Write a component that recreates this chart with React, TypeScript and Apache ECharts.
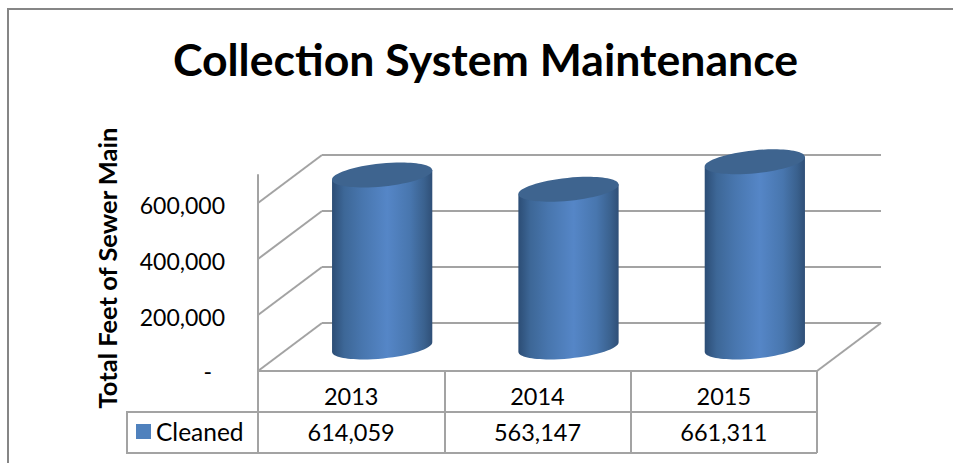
import React, { useEffect, useRef } from "react";
import * as echarts from "echarts";

const years = ["2013", "2014", "2015"];
const cleaned = [614059, 563147, 661311];
const wallTicks = [0, 200000, 400000, 600000];
const seriesName = "Cleaned";
const titleText = "Collection System Maintenance";
const axisTitle = "Total Feet of Sewer Main";

const FONT = "Lato, 'Open Sans', sans-serif";
const LINE = "#a3a3a3";
const BASE_BLUE = "#4f81bd";
// Offset from the front of the 3D box to its back wall.
const DEPTH_X = 64;
const DEPTH_Y = -48;
// Bezier constant for a quarter of an ellipse.
const K = 0.5523;

const wallItem = (params: any, api: any) => {
  const v = api.value(1);
  const [, y] = api.coord([0, v]);
  const left = params.coordSys.x;
  const style = { stroke: LINE, lineWidth: 2, fill: "none" };
  const children: any[] = [
    { type: "line", shape: { x1: left, y1: y, x2: left + DEPTH_X, y2: y + DEPTH_Y }, style },
  ];
  if (v === 0) {
    const right = left + params.coordSys.width;
    children.push({ type: "line", shape: { x1: right, y1: y, x2: right + DEPTH_X, y2: y + DEPTH_Y }, style });
  }
  return { type: "group", children };
};

// Lower half of a tilted ellipse from its left tip to its right tip.
const lowerArc = (cx: number, cy: number, a: number, s: number, vx: number, vy: number) => {
  const c1 = `${cx - a + K * vx} ${cy + s + K * vy}`;
  const c2 = `${cx + vx - K * a} ${cy + vy + K * s}`;
  const mid = `${cx + vx} ${cy + vy}`;
  const c3 = `${cx + vx + K * a} ${cy + vy - K * s}`;
  const c4 = `${cx + a + K * vx} ${cy - s + K * vy}`;
  return `C${c1} ${c2} ${mid} C${c3} ${c4} ${cx + a} ${cy - s}`;
};

// Upper half of a tilted ellipse from its right tip back to its left tip.
const upperArc = (cx: number, cy: number, a: number, s: number, vx: number, vy: number) => {
  const c1 = `${cx + a - K * vx} ${cy - s - K * vy}`;
  const c2 = `${cx - vx + K * a} ${cy - vy - K * s}`;
  const mid = `${cx - vx} ${cy - vy}`;
  const c3 = `${cx - vx - K * a} ${cy - vy + K * s}`;
  const c4 = `${cx - a - K * vx} ${cy + s - K * vy}`;
  return `C${c1} ${c2} ${mid} C${c3} ${c4} ${cx - a} ${cy + s}`;
};

const cylinderItem = (_params: any, api: any) => {
  const idx = api.value(0);
  const val = api.value(1);
  const band = api.size([1, 0])[0];
  const a = band * 0.269;
  const s = a * 0.1;
  const minor = 11.5;
  const vx = minor * 0.0995;
  const vy = minor * 0.995;
  const [fx, fy0] = api.coord([idx, 0]);
  const [, fyV] = api.coord([idx, val]);
  const cx = fx + DEPTH_X / 2 - 1;
  const by = fy0 + DEPTH_Y / 2;
  const ty = fyV + DEPTH_Y / 2;
  const body =
    `M${cx - a} ${ty + s} L${cx - a} ${by + s} ` +
    lowerArc(cx, by, a, s, vx, vy) +
    ` L${cx + a} ${ty - s} Z`;
  const top =
    `M${cx - a} ${ty + s} ` +
    lowerArc(cx, ty, a, s, vx, vy) +
    " " +
    upperArc(cx, ty, a, s, vx, vy) +
    " Z";
  const sideFill = new echarts.graphic.LinearGradient(0, 0, 1, 0, [
    { offset: 0, color: "#2c4d75" },
    { offset: 0.12, color: "#3d6797" },
    { offset: 0.3, color: "#4876ae" },
    { offset: 0.55, color: "#5586c7" },
    { offset: 0.78, color: "#4876ae" },
    { offset: 0.92, color: "#3a618e" },
    { offset: 1, color: "#2f4f77" },
  ]);
  return {
    type: "group",
    children: [
      { type: "path", shape: { pathData: body }, style: { fill: sideFill } },
      { type: "path", shape: { pathData: top }, style: { fill: "#3e648f" } },
    ],
  };
};

const formatNumber = (n: number) => n.toLocaleString("en-US");

export default function App() {
  const ref = useRef<HTMLDivElement>(null);

  useEffect(() => {
    const chart = echarts.init(ref.current!, null, { renderer: "svg" });
    const axisLine = { show: true, lineStyle: { color: LINE, width: 2 } };
    const labelBase = { color: "#000", fontFamily: FONT, fontSize: 23.5 };
    chart.setOption({
      animation: false,
      backgroundColor: "#fff",
      title: {
        text: titleText,
        left: 480.5,
        top: 31,
        textAlign: "center",
        textStyle: { fontFamily: FONT, fontWeight: "bold", fontSize: 44.6, color: "#000" },
      },
      legend: {
        data: [seriesName],
        left: 127,
        top: 419,
        icon: "rect",
        itemWidth: 15,
        itemHeight: 15,
        itemGap: 6,
        padding: [0, 0, 0, 9],
        selectedMode: false,
        textStyle: { ...labelBase, fontSize: 24.5 },
      },
      grid: [
        { left: 258, top: 175, width: 559, height: 196 },
        { left: 322, top: 155, width: 559, height: 168 },
      ],
      xAxis: [
        {
          gridIndex: 0,
          type: "category",
          position: "bottom",
          data: years,
          axisLine,
          axisTick: { show: true, length: 41, lineStyle: { color: LINE, width: 2 } },
          axisLabel: { ...labelBase, margin: 13 },
        },
        {
          gridIndex: 0,
          type: "category",
          position: "bottom",
          offset: 41,
          data: cleaned.map(formatNumber),
          axisLine,
          axisTick: { show: true, length: 41, lineStyle: { color: LINE, width: 2 } },
          axisLabel: { ...labelBase, margin: 8 },
        },
        { gridIndex: 1, type: "category", data: years, show: false },
      ],
      yAxis: [
        {
          gridIndex: 0,
          type: "value",
          min: 0,
          max: 700000,
          interval: 200000,
          name: axisTitle,
          nameLocation: "middle",
          nameRotate: 90,
          nameGap: 138,
          nameTextStyle: {
            fontFamily: FONT,
            fontWeight: "bold",
            fontSize: 25.5,
            color: "#000",
            padding: [0, 0, 0, 10],
          },
          axisLine,
          axisTick: { show: false },
          splitLine: { show: false },
          axisLabel: {
            ...labelBase,
            fontSize: 23,
            margin: 33,
            padding: [4, 0, 0, 0],
            formatter: (v: number) =>
              v === 0 ? "{dash|-}" : v > 600000 ? "" : formatNumber(v),
            rich: { dash: { ...labelBase, fontSize: 23, padding: [0, 13, 4, 0] } },
          },
        },
        {
          gridIndex: 1,
          type: "value",
          min: 0,
          max: 600000,
          interval: 200000,
          axisLine: { show: false },
          axisTick: { show: false },
          axisLabel: { show: false },
          splitLine: { show: true, lineStyle: { color: LINE, width: 2 } },
        },
      ],
      series: [
        {
          name: "walls",
          type: "custom",
          xAxisIndex: 0,
          yAxisIndex: 0,
          silent: true,
          z: 1,
          renderItem: wallItem,
          data: wallTicks.map((t) => [0, t]),
        },
        {
          name: seriesName,
          type: "custom",
          xAxisIndex: 0,
          yAxisIndex: 0,
          z: 5,
          itemStyle: { color: BASE_BLUE },
          renderItem: cylinderItem,
          encode: { x: 0, y: 1 },
          data: cleaned.map((v, i) => [i, v]),
        },
      ],
      graphic: [
        // Outer chart frame: top and left edges.
        {
          type: "polyline",
          shape: { points: [[8, 463], [8, 9], [953, 9]] },
          style: { stroke: "#868686", lineWidth: 2, fill: "none" },
        },
        // Legend cell and bottom rule of the data table.
        {
          type: "polyline",
          shape: { points: [[258, 412], [127, 412], [127, 453], [817, 453]] },
          style: { stroke: LINE, lineWidth: 2, fill: "none" },
        },
      ],
    });
    return () => chart.dispose();
  }, []);

  return (
    <div
      ref={ref}
      style={{ position: "absolute", left: 0, top: 0, width: 953, height: 463 }}
    />
  );
}
